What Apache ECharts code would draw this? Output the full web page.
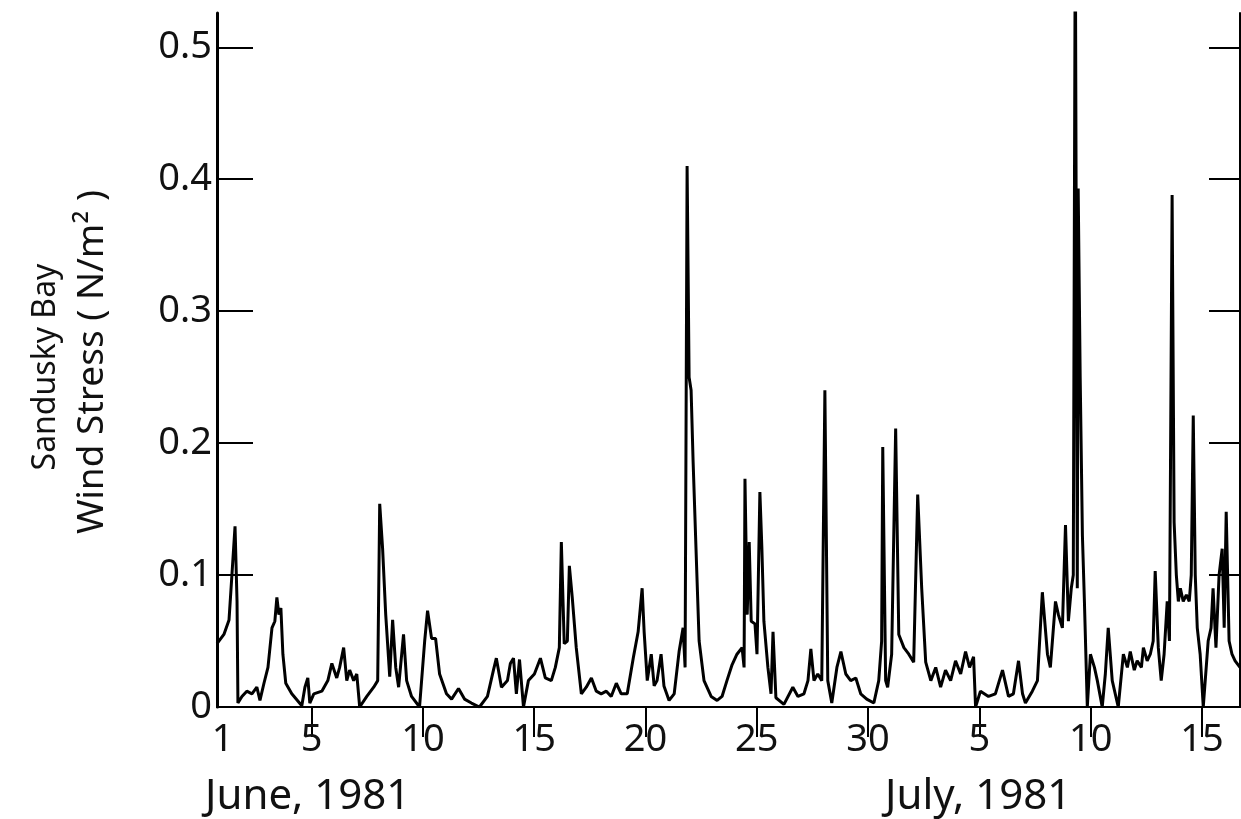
<!DOCTYPE html>
<html>
<head>
<meta charset="utf-8">
<title>Sandusky Bay Wind Stress</title>
<script src="https://cdn.jsdelivr.net/npm/echarts@6/dist/echarts.min.js"></script>
<style>
  html, body { margin: 0; padding: 0; background: #fff; }
  #chart { width: 1241px; height: 819px; }
</style>
</head>
<body>
<div id="chart"></div>
<script>
// day of record: June d = d, July d = 30 + d
var stressDays = [
  0.75, 1.06, 1.29, 1.42, 1.56, 1.65, 1.69, 1.87, 2.09, 2.32, 2.54, 2.68, 2.86, 3.04, 3.22, 3.35, 3.44, 3.53, 3.62, 3.71,
  3.84, 4.11, 4.56, 4.70, 4.83, 4.92, 5.10, 5.46, 5.73, 5.91, 6.13, 6.26, 6.44, 6.58, 6.71, 6.89, 7.03, 7.16, 7.48, 7.79,
  7.97, 8.06, 8.19, 8.33, 8.51, 8.64, 8.78, 8.91, 9.13, 9.27, 9.49, 9.85, 10.08, 10.21, 10.39, 10.57, 10.75, 11.06, 11.29, 11.60,
  11.87, 12.18, 12.54, 12.90, 13.17, 13.30, 13.53, 13.80, 13.93, 14.07, 14.20, 14.34, 14.52, 14.74, 15.01, 15.28, 15.50, 15.77, 15.95, 16.13,
  16.22, 16.35, 16.49, 16.58, 16.71, 16.89, 17.12, 17.34, 17.57, 17.79, 18.01, 18.24, 18.46, 18.69, 18.91, 19.18, 19.45, 19.67, 19.85, 19.94,
  20.08, 20.26, 20.39, 20.52, 20.70, 20.83, 21.06, 21.29, 21.51, 21.69, 21.78, 21.87, 21.96, 22.05, 22.14, 22.27, 22.41, 22.63, 22.95, 23.22,
  23.44, 23.66, 23.89, 24.11, 24.34, 24.43, 24.47, 24.57, 24.66, 24.75, 24.92, 25.01, 25.14, 25.23, 25.32, 25.50, 25.64, 25.73, 25.86, 26.22,
  26.62, 26.85, 27.12, 27.30, 27.43, 27.57, 27.74, 27.92, 28.06, 28.19, 28.37, 28.60, 28.78, 29.00, 29.22, 29.45, 29.67, 29.94, 30.26, 30.48,
  30.61, 30.66, 30.79, 30.88, 31.06, 31.24, 31.38, 31.61, 31.83, 32.05, 32.23, 32.41, 32.59, 32.82, 33.04, 33.26, 33.48, 33.71, 33.93, 34.16,
  34.38, 34.56, 34.74, 34.83, 35.05, 35.41, 35.72, 36.04, 36.31, 36.53, 36.76, 36.94, 37.07, 37.38, 37.61, 37.83, 38.06, 38.19, 38.42, 38.55,
  38.73, 38.87, 39.00, 39.13, 39.22, 39.31, 39.40, 39.44, 39.53, 39.63, 39.72, 39.85, 39.99, 40.17, 40.30, 40.52, 40.66, 40.79, 40.97, 41.24,
  41.47, 41.65, 41.78, 41.96, 42.09, 42.28, 42.37, 42.54, 42.68, 42.81, 42.90, 43.04, 43.17, 43.30, 43.44, 43.54, 43.66, 43.75, 43.85, 43.94,
  44.03, 44.16, 44.30, 44.43, 44.52, 44.61, 44.70, 44.79, 44.92, 45.06, 45.28, 45.41, 45.50, 45.63, 45.77, 45.91, 46.00, 46.09, 46.22, 46.35,
  46.49, 46.71
];
var stressValues = [
  0.048, 0.055, 0.066, 0.100, 0.137, 0.080, 0.003, 0.008, 0.012, 0.010, 0.015, 0.005, 0.018, 0.030, 0.060, 0.065, 0.083, 0.070, 0.075, 0.040,
  0.018, 0.010, 0.001, 0.015, 0.022, 0.003, 0.010, 0.012, 0.020, 0.033, 0.022, 0.030, 0.045, 0.020, 0.028, 0.020, 0.025, 0.000, 0.008, 0.015,
  0.020, 0.154, 0.120, 0.070, 0.023, 0.066, 0.030, 0.015, 0.055, 0.020, 0.008, 0.000, 0.050, 0.073, 0.052, 0.052, 0.025, 0.010, 0.006, 0.014,
  0.006, 0.003, 0.000, 0.008, 0.028, 0.037, 0.015, 0.020, 0.033, 0.037, 0.010, 0.036, 0.000, 0.020, 0.025, 0.037, 0.022, 0.020, 0.030, 0.045,
  0.125, 0.048, 0.050, 0.107, 0.083, 0.045, 0.010, 0.015, 0.022, 0.012, 0.010, 0.012, 0.008, 0.018, 0.010, 0.010, 0.037, 0.057, 0.090, 0.057,
  0.020, 0.040, 0.016, 0.020, 0.040, 0.016, 0.005, 0.010, 0.042, 0.060, 0.030, 0.410, 0.250, 0.240, 0.186, 0.120, 0.050, 0.020, 0.008, 0.005,
  0.008, 0.020, 0.032, 0.040, 0.045, 0.030, 0.173, 0.070, 0.125, 0.065, 0.063, 0.040, 0.163, 0.120, 0.065, 0.030, 0.010, 0.057, 0.007, 0.002,
  0.015, 0.008, 0.010, 0.020, 0.044, 0.020, 0.025, 0.020, 0.240, 0.020, 0.003, 0.030, 0.042, 0.025, 0.020, 0.022, 0.010, 0.006, 0.003, 0.020,
  0.050, 0.197, 0.020, 0.015, 0.040, 0.211, 0.055, 0.045, 0.040, 0.034, 0.161, 0.090, 0.034, 0.020, 0.030, 0.015, 0.028, 0.020, 0.035, 0.025,
  0.042, 0.030, 0.038, 0.000, 0.012, 0.008, 0.010, 0.028, 0.008, 0.010, 0.035, 0.010, 0.003, 0.012, 0.020, 0.087, 0.040, 0.030, 0.080, 0.070,
  0.060, 0.138, 0.065, 0.090, 0.100, 0.600, 0.090, 0.393, 0.250, 0.130, 0.080, 0.000, 0.040, 0.030, 0.020, 0.000, 0.025, 0.060, 0.020, 0.000,
  0.040, 0.030, 0.042, 0.028, 0.035, 0.030, 0.045, 0.035, 0.040, 0.050, 0.103, 0.045, 0.020, 0.040, 0.080, 0.050, 0.388, 0.140, 0.100, 0.080,
  0.090, 0.080, 0.085, 0.080, 0.100, 0.221, 0.100, 0.060, 0.040, 0.000, 0.050, 0.060, 0.090, 0.045, 0.100, 0.120, 0.060, 0.148, 0.050, 0.040,
  0.035, 0.030
];

var xTickDays = [1, 5, 10, 15, 20, 25, 30, 35, 40, 45];
var xTickLabels = ['1', '5', '10', '15', '20', '25', '30', '5', '10', '15'];
var topTickDays = [5, 10, 15, 20, 25, 30, 35, 40, 45];
var yTicks = [0, 0.1, 0.2, 0.3, 0.4, 0.5];
var yTickLabels = ['0', '0.1', '0.2', '0.3', '0.4', '0.5'];

var font = "'Noto Sans', sans-serif";

var myChart = echarts.init(document.getElementById('chart'));

var seriesData = [];
for (var i = 0; i < stressDays.length; i++) {
    seriesData.push([stressDays[i], stressValues[i]]);
}

var option = {
    backgroundColor: '#fff',
    animation: false,
    grid: {
        left: 217,
        right: 1,
        top: 13,
        bottom: 112
    },
    xAxis: [
        {
            type: 'value',
            position: 'bottom',
            min: 0.75,
            max: 46.71,
            axisLine: { lineStyle: { color: '#000', width: 2 } },
            axisTick: { show: false },
            splitLine: { show: false },
            axisLabel: {
                customValues: xTickDays,
                color: '#111',
                fontFamily: font,
                fontSize: 38,
                margin: 14,
                formatter: function (v) {
                    var k = xTickDays.indexOf(v);
                    return k >= 0 ? xTickLabels[k] : '';
                }
            }
        },
        {
            type: 'value',
            position: 'top',
            min: 0.75,
            max: 46.71,
            axisLine: { lineStyle: { color: '#000', width: 2 } },
            axisTick: {
                customValues: topTickDays,
                inside: true,
                length: 30,
                lineStyle: { color: '#000', width: 2 }
            },
            axisLabel: { show: false },
            splitLine: { show: false }
        }
    ],
    yAxis: [
        {
            type: 'value',
            position: 'left',
            min: 0,
            max: 0.526,
            axisLine: { lineStyle: { color: '#000', width: 3 } },
            axisTick: {
                customValues: [0.1, 0.2, 0.3, 0.4, 0.5],
                inside: true,
                length: 36,
                lineStyle: { color: '#000', width: 2 }
            },
            splitLine: { show: false },
            axisLabel: {
                customValues: yTicks,
                color: '#111',
                fontFamily: font,
                fontSize: 38,
                margin: 5,
                formatter: function (v) {
                    var k = yTicks.indexOf(v);
                    return k >= 0 ? yTickLabels[k] : '';
                }
            }
        },
        {
            type: 'value',
            position: 'right',
            min: 0,
            max: 0.526,
            axisLine: { lineStyle: { color: '#000', width: 2 } },
            axisTick: {
                customValues: [0.1, 0.2, 0.3, 0.4, 0.5],
                inside: true,
                length: 31,
                lineStyle: { color: '#000', width: 2 }
            },
            axisLabel: { show: false },
            splitLine: { show: false }
        }
    ],
    graphic: [
        {
            type: 'text',
            x: 205,
            y: 797,
            style: {
                text: 'June, 1981',
                fill: '#111',
                font: '42px ' + font,
                textAlign: 'left',
                textVerticalAlign: 'middle'
            }
        },
        {
            type: 'text',
            x: 885,
            y: 797,
            style: {
                text: 'July, 1981',
                fill: '#111',
                font: '42px ' + font,
                textAlign: 'left',
                textVerticalAlign: 'middle'
            }
        },
        {
            type: 'text',
            x: 46,
            y: 367,
            rotation: Math.PI / 2,
            style: {
                text: 'Sandusky Bay',
                fill: '#111',
                font: '32px ' + font,
                textAlign: 'center',
                textVerticalAlign: 'middle'
            }
        },
        {
            type: 'text',
            x: 92,
            y: 362,
            rotation: Math.PI / 2,
            style: {
                text: 'Wind Stress ( N/m\u00b2 )',
                fill: '#111',
                font: '37px ' + font,
                textAlign: 'center',
                textVerticalAlign: 'middle'
            }
        }
    ],
    series: [
        {
            name: 'Wind Stress',
            type: 'line',
            xAxisIndex: 0,
            yAxisIndex: 0,
            showSymbol: false,
            symbol: 'none',
            clip: true,
            lineStyle: { color: '#000', width: 3 },
            data: seriesData
        }
    ]
};
myChart.setOption(option, true);
</script>
</body>
</html>
